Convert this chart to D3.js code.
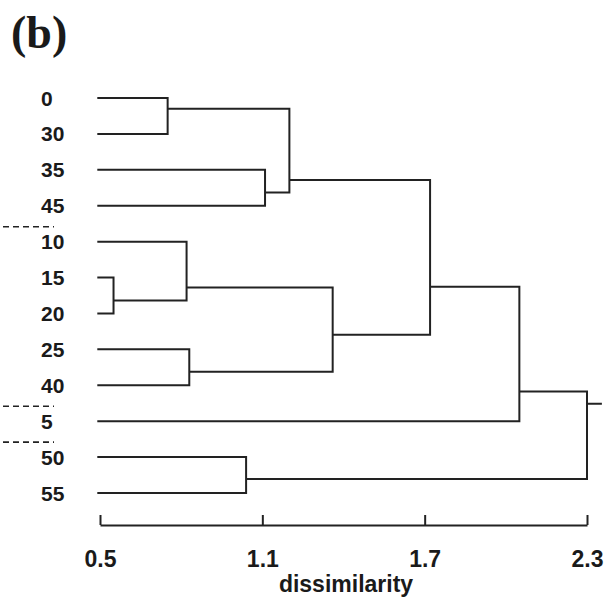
<!DOCTYPE html>
<html>
<head>
<meta charset="utf-8">
<style>
    body { margin: 0; background: #fff; }
    svg { display: block; }
    text { font-family: "Liberation Sans", Arial, sans-serif; font-weight: bold; fill: #1a1a1a; }
</style>
</head>
<body>
<svg width="609" height="602"></svg>
<script src="https://cdnjs.cloudflare.com/ajax/libs/d3/7.8.5/d3.min.js"></script>
<script>
    // leaf order, top to bottom
    const leaves = ['0', '30', '35', '45', '10', '15', '20', '25', '40', '5', '50', '55'];

    // [id, child 1, child 2, dissimilarity]
    const merges = [
        ['A', '0', '30', 0.75],
        ['B', '35', '45', 1.11],
        ['C', 'A', 'B', 1.20],
        ['D', '15', '20', 0.55],
        ['E', '10', 'D', 0.82],
        ['F', '25', '40', 0.83],
        ['G', 'E', 'F', 1.36],
        ['H', 'C', 'G', 1.72],
        ['I', 'H', '5', 2.05],
        ['J', '50', '55', 1.04],
        ['K', 'I', 'J', 2.30]
    ];

    // groups are split after these leaves
    const separatorsAfter = ['45', '40', '5'];

    const tickValues = [0.5, 1.1, 1.7, 2.3];
    const axisTitle = 'dissimilarity';
    const panelLabel = '(b)';

    // drawing layout: where the stem leaves each join (0 = first child, 1 = second)
    const joinFraction = [0.3, 0.63, 0.85, 0.64, 0.78, 0.62, 0.56, 0.69, 0.78, 0.61, 0.14];
    const leafStart = 0.49;
    const rootEnd = 2.355;

    const svg = d3.select('svg');
    const x = d3.scaleLinear().domain([0.5, 2.3]).range([100, 587]);
    const y = d3.scalePoint().domain(leaves).range([98, 493]);

    // position of every node: leaves first, then joins
    const nodes = {};
    leaves.forEach(name => {
        nodes[name] = {x: x(leafStart), y: y(name)};
    });

    const path = d3.path();
    merges.forEach(([id, a, b, h], i) => {
        const na = nodes[a], nb = nodes[b], xm = x(h);
        path.moveTo(na.x, na.y);
        path.lineTo(xm, na.y);
        path.lineTo(xm, nb.y);
        path.lineTo(nb.x, nb.y);
        nodes[id] = {x: xm, y: na.y + joinFraction[i] * (nb.y - na.y)};
    });
    const root = nodes[merges[merges.length - 1][0]];
    path.moveTo(root.x, root.y);
    path.lineTo(x(rootEnd), root.y);

    svg.append('path')
        .attr('d', path.toString())
        .attr('fill', 'none')
        .attr('stroke', '#222')
        .attr('stroke-width', 2);

    // leaf labels
    svg.selectAll('.leaf')
        .data(leaves)
        .enter()
        .append('text')
        .attr('class', 'leaf')
        .attr('x', 41)
        .attr('y', d => y(d))
        .attr('dy', '0.36em')
        .style('font-size', '21px')
        .text(d => d);

    // dashed group separators
    const step = y.step();
    svg.selectAll('.sep')
        .data(separatorsAfter)
        .enter()
        .append('line')
        .attr('class', 'sep')
        .attr('x1', 3)
        .attr('x2', 54)
        .attr('y1', d => y(d) + step / 2 + 3)
        .attr('y2', d => y(d) + step / 2 + 3)
        .attr('stroke', '#222')
        .attr('stroke-width', 1.6)
        .attr('stroke-dasharray', '6,4');

    // axis
    const axis = svg.append('g')
        .attr('transform', 'translate(0,525)')
        .call(d3.axisBottom(x)
            .tickValues(tickValues)
            .tickFormat(d3.format('.1f'))
            .tickSizeInner(-10)
            .tickSizeOuter(0)
            .tickPadding(26));
    axis.select('.domain').attr('stroke', '#222').attr('stroke-width', 2);
    axis.selectAll('.tick line').attr('stroke', '#222').attr('stroke-width', 2);
    axis.selectAll('.tick text')
        .style('font-family', '"Liberation Sans", Arial, sans-serif')
        .style('font-size', '23px')
        .style('font-weight', 'bold')
        .attr('fill', '#1a1a1a');

    svg.append('text')
        .attr('x', 346)
        .attr('y', 592)
        .attr('text-anchor', 'middle')
        .style('font-size', '23px')
        .text(axisTitle);

    svg.append('text')
        .attr('x', 11)
        .attr('y', 48)
        .style('font-family', '"Liberation Serif", "Times New Roman", serif')
        .style('font-size', '46px')
        .text(panelLabel);
</script>
</body>
</html>
